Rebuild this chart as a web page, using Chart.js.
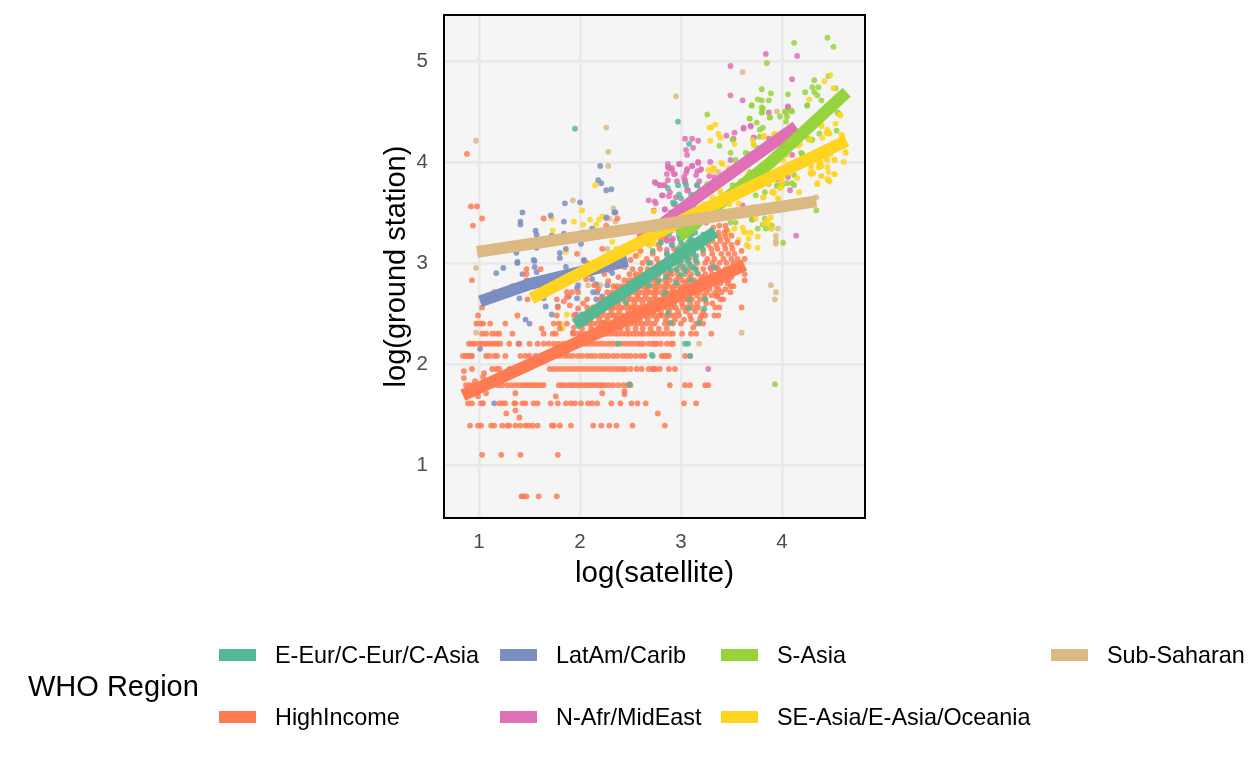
<!DOCTYPE html>
<html>
<head>
<meta charset="utf-8">
<title>WHO Region</title>
<script src="https://cdn.jsdelivr.net/npm/chart.js@4/dist/chart.umd.js"></script>
<style>
  html, body { margin: 0; padding: 0; background: #fff; }
  #wrap { position: relative; width: 1248px; height: 768px; overflow: hidden; font-family: "Liberation Sans", Arial, sans-serif; }
  canvas { position: absolute; left: 0; top: 0; }
  .legend-title { position: absolute; left: 28px; top: 668px; font-size: 29px; line-height: 36px; color: #000; white-space: nowrap; }
  .swatch { position: absolute; width: 37px; height: 12px; }
  .legend-label { position: absolute; font-size: 23.4px; line-height: 28px; color: #000; white-space: nowrap; }
</style>
</head>
<body>
<div id="wrap">
  <canvas id="chart" width="1248" height="768"></canvas>
  <div class="legend-title">WHO Region</div>
</div>
<script>
const regions = ['E-Eur/C-Eur/C-Asia', 'HighIncome', 'LatAm/Carib', 'N-Afr/MidEast', 'S-Asia', 'SE-Asia/E-Asia/Oceania', 'Sub-Saharan'];
const regionColors = ['#55b894', '#ff7a50', '#7b8ec1', '#e070b5', '#96d43c', '#ffd420', '#dcb882'];
const xTicks = [1, 2, 3, 4];
const yTicks = [1, 2, 3, 4, 5];

// fitted lines
const eEurLine = [[1.95, 2.39], [3.34, 3.31]];
const highIncomeLine = [[0.84, 1.69], [3.63, 2.98]];
const latAmLine = [[1.01, 2.62], [1.5, 2.79], [2.47, 3.02]];
const nAfrLine = [[2.6, 3.22], [3.2, 3.68], [4.14, 4.35]];
const sAsiaLine = [[2.98, 3.26], [3.88, 3.99], [4.64, 4.69]];
const seAsiaLine = [[1.52, 2.65], [3.1, 3.47], [4.64, 4.21]];
const subSaharanLine = [[0.98, 3.11], [4.34, 3.61]];

// high income stations report whole numbers, so the points fall in rows: [y, [x...]]
const highIncomeRows = [
  [0.69, [1.42, 1.44, 1.47, 1.59, 1.77]],
  [1.10, [1.03, 1.22, 1.41, 1.78]],
  [1.39, [0.91, 0.99, 1.02, 1.12, 1.15, 1.23, 1.28, 1.30, 1.36, 1.41, 1.46, 1.49, 1.53, 1.58, 1.72, 1.74, 1.80, 1.91, 2.13, 2.21, 2.29, 2.36, 2.52, 2.84]],
  [1.61, [0.89, 0.93, 1.02, 1.04, 1.20, 1.23, 1.26, 1.35, 1.36, 1.43, 1.46, 1.54, 1.58, 1.71, 1.78, 1.86, 1.91, 1.95, 2.01, 2.08, 2.12, 2.17, 2.31, 2.40, 2.51, 2.57, 2.65, 3.03, 3.15]],
  [1.79, [0.87, 0.90, 0.94, 0.98, 1.01, 1.05, 1.10, 1.14, 1.19, 1.23, 1.28, 1.32, 1.36, 1.40, 1.43, 1.46, 1.49, 1.52, 1.55, 1.58, 1.61, 1.64, 1.79, 1.82, 1.85, 1.89, 1.92, 1.95, 1.98, 2.01, 2.04, 2.07, 2.10, 2.13, 2.16, 2.19, 2.22, 2.25, 2.29, 2.33, 2.38, 2.43, 2.47, 2.50, 2.89, 3.04, 3.09, 3.24, 3.27]],
  [1.95, [0.93, 1.13, 1.17, 1.20, 1.30, 1.35, 1.40, 1.45, 1.48, 1.70, 1.74, 1.78, 1.82, 1.86, 1.90, 1.94, 1.98, 2.02, 2.06, 2.10, 2.14, 2.18, 2.22, 2.26, 2.30, 2.34, 2.38, 2.42, 2.45, 2.50, 2.56, 2.61, 2.68, 2.72, 2.75, 2.79, 2.88, 2.94]],
  [2.08, [0.84, 0.87, 0.89, 0.92, 0.93, 1.07, 1.10, 1.15, 1.18, 1.26, 1.41, 1.46, 1.50, 1.56, 1.68, 1.72, 1.76, 1.80, 1.85, 1.89, 1.93, 1.98, 2.02, 2.07, 2.11, 2.15, 2.20, 2.24, 2.28, 2.33, 2.37, 2.42, 2.46, 2.50, 2.55, 2.60, 2.64, 2.81, 2.83, 2.86, 2.88, 3.04, 3.09]],
  [2.20, [0.90, 0.93, 0.96, 1.00, 1.03, 1.06, 1.09, 1.12, 1.15, 1.18, 1.21, 1.30, 1.40, 1.50, 1.58, 1.64, 1.69, 1.74, 1.79, 1.84, 1.88, 1.92, 1.96, 2.00, 2.04, 2.08, 2.12, 2.16, 2.20, 2.24, 2.28, 2.32, 2.36, 2.41, 2.45, 2.49, 2.53, 2.57, 2.60, 2.63, 2.68, 2.72, 2.76, 2.80, 2.86, 2.90, 2.92]],
  [2.30, [1.03, 1.07, 1.13, 1.17, 1.20, 1.33, 1.64, 1.73, 1.76, 1.93, 1.97, 2.01, 2.05, 2.09, 2.13, 2.16, 2.20, 2.24, 2.27, 2.31, 2.35, 2.38, 2.42, 2.46, 2.49, 2.53, 2.56, 2.60, 2.63, 2.68, 2.72, 2.76, 2.80, 2.84, 2.89, 2.92, 3.01, 3.10, 3.15]],
  [2.35, [2.02, 2.11, 2.18, 2.26, 2.33, 2.40, 2.47, 2.55, 2.62, 2.70, 2.78, 2.86]],
  [2.40, [0.98, 1.02, 1.04, 1.11, 1.26, 1.74, 1.79, 1.87, 2.00, 2.05, 2.09, 2.13, 2.17, 2.21, 2.24, 2.28, 2.32, 2.35, 2.39, 2.43, 2.47, 2.50, 2.54, 2.57, 2.61, 2.65, 2.70, 2.74, 2.84, 2.88, 2.92, 3.00, 3.15, 3.18, 3.22]],
  [2.44, [2.10, 2.19, 2.27, 2.36, 2.44, 2.52, 2.59, 2.67, 2.76, 2.85, 2.94, 3.03, 3.10]],
  [2.48, [0.99, 1.38, 1.77, 1.94, 2.02, 2.08, 2.12, 2.17, 2.21, 2.26, 2.30, 2.34, 2.37, 2.42, 2.46, 2.50, 2.53, 2.57, 2.61, 2.65, 2.70, 2.74, 2.78, 2.81, 2.86, 2.89, 2.93, 2.98, 3.09, 3.20, 3.24, 3.33, 3.37]],
  [2.52, [2.14, 2.22, 2.31, 2.39, 2.48, 2.55, 2.63, 2.72, 2.80, 2.88, 2.97, 3.05, 3.14, 3.22]],
  [2.56, [1.03, 1.78, 2.07, 2.13, 2.18, 2.23, 2.27, 2.31, 2.35, 2.40, 2.44, 2.48, 2.52, 2.56, 2.60, 2.64, 2.67, 2.71, 2.75, 2.79, 2.83, 2.87, 2.91, 2.95, 3.02, 3.06, 3.12, 3.17, 3.34, 3.38, 3.60]],
  [2.60, [2.21, 2.30, 2.38, 2.46, 2.54, 2.62, 2.69, 2.77, 2.84, 2.93, 3.01, 3.09, 3.16, 3.25, 3.31]],
  [2.64, [1.48, 1.77, 2.07, 2.20, 2.25, 2.29, 2.33, 2.38, 2.42, 2.47, 2.51, 2.55, 2.59, 2.63, 2.68, 2.72, 2.76, 2.81, 2.85, 2.90, 2.95, 3.00, 3.05, 3.11, 3.19, 3.24, 3.39, 3.42]],
  [2.68, [2.30, 2.39, 2.48, 2.57, 2.65, 2.74, 2.83, 2.92, 3.00, 3.09, 3.16, 3.23, 3.30, 3.36]],
  [2.71, [1.15, 1.87, 1.92, 1.98, 2.27, 2.32, 2.36, 2.41, 2.45, 2.50, 2.54, 2.58, 2.62, 2.67, 2.71, 2.75, 2.80, 2.85, 2.90, 2.95, 3.01, 3.06, 3.12, 3.18, 3.25, 3.34, 3.40, 3.49]],
  [2.74, [2.38, 2.47, 2.56, 2.66, 2.75, 2.84, 2.92, 3.00, 3.10, 3.20, 3.28, 3.37, 3.44]],
  [2.77, [1.33, 2.33, 2.37, 2.42, 2.46, 2.51, 2.55, 2.60, 2.64, 2.68, 2.73, 2.78, 2.83, 2.88, 2.93, 2.98, 3.03, 3.09, 3.15, 3.22, 3.28, 3.35, 3.49, 3.52]],
  [2.80, [2.48, 2.57, 2.66, 2.76, 2.86, 2.96, 3.05, 3.14, 3.24, 3.32, 3.39, 3.46]],
  [2.83, [0.93, 1.47, 2.44, 2.49, 2.53, 2.58, 2.63, 2.68, 2.73, 2.78, 2.84, 2.89, 2.95, 3.01, 3.07, 3.13, 3.19, 3.26, 3.33, 3.41, 3.47, 3.63]],
  [2.86, [2.56, 2.64, 2.75, 2.87, 2.98, 3.09, 3.21, 3.29, 3.36, 3.44, 3.50]],
  [2.89, [1.47, 2.10, 2.24, 2.49, 2.55, 2.60, 2.66, 2.72, 2.78, 2.85, 2.91, 2.97, 3.04, 3.10, 3.17, 3.24, 3.31, 3.39, 3.45, 3.51, 3.63]],
  [2.94, [1.47, 1.61, 2.52, 2.60, 2.67, 2.74, 2.81, 2.88, 2.95, 3.02, 3.08, 3.15, 3.22, 3.30, 3.37, 3.44, 3.53, 3.60]],
  [3.00, [2.07, 2.62, 2.70, 2.78, 2.85, 2.93, 3.00, 3.08, 3.16, 3.24, 3.31, 3.38, 3.45, 3.52, 3.58]],
  [3.04, [2.66, 2.76, 2.86, 2.96, 3.07, 3.14, 3.26, 3.33, 3.42, 3.50, 3.56]],
  [3.09, [1.97, 2.72, 2.86, 3.03, 3.12, 3.22, 3.31, 3.40, 3.47, 3.53]],
  [3.14, [2.22, 2.79, 2.93, 3.08, 3.21, 3.30, 3.36, 3.44, 3.51]],
  [3.18, [2.78, 3.02, 3.18, 3.27, 3.35, 3.43, 3.50]],
  [3.22, [2.80, 3.10, 3.24, 3.31, 3.39, 3.46]],
  [3.26, [2.83, 3.22, 3.30, 3.38, 3.44]],
  [3.30, [3.28, 3.37, 3.43]],
  [3.37, [0.94, 2.26, 3.38, 3.44]],
  [3.44, [1.03, 1.64, 2.37]],
  [3.56, [0.92, 0.98]],
  [4.08, [0.88]]
];
const highIncomeExtra = [[1.27, 1.51], [1.36, 1.54], [1.40, 1.47], [1.76, 1.68], [2.77, 1.51], [1.07, 1.71], [0.99, 1.68], [2.44, 1.73], [2.44, 1.70], [2.22, 1.71], [1.36, 1.71], [0.85, 1.86], [1.04, 1.87], [1.05, 1.91], [0.96, 1.83], [0.85, 1.93], [1.87, 2.66], [2.13, 2.52], [1.94, 2.36], [1.80, 2.35], [3.30, 2.30], [3.12, 2.36], [3.35, 2.67], [3.19, 2.45], [1.62, 2.35], [1.72, 2.80], [1.78, 2.75], [1.84, 2.62], [1.90, 2.58], [1.98, 2.55], [2.03, 2.60], [2.06, 2.84], [2.14, 2.78], [2.18, 2.74], [2.28, 2.82], [2.38, 2.86], [2.44, 2.96], [2.31, 2.94], [2.50, 3.03], [2.55, 3.07], [2.60, 3.12], [2.66, 3.20], [2.90, 3.32], [3.05, 3.34], [3.16, 3.36], [3.25, 3.40], [3.32, 3.35], [3.45, 3.33], [3.50, 3.27], [3.56, 3.20], [3.60, 3.12], [3.63, 3.04]];

const eEurPoints = [[1.95, 4.33], [2.97, 4.40], [3.08, 4.18], [2.87, 3.74], [2.97, 3.77], [3.05, 3.77], [3.16, 3.77], [2.94, 3.59], [3.00, 3.64], [3.14, 3.64], [3.19, 3.72], [2.68, 3.00], [3.04, 2.20], [3.07, 2.20], [3.09, 2.08], [3.18, 2.41], [2.90, 2.41], [3.24, 2.64], [3.08, 2.64], [2.71, 2.09], [2.84, 2.69], [2.38, 2.20], [2.45, 2.61], [2.87, 2.50], [2.69, 2.78], [2.49, 1.80], [2.72, 2.08], [3.23, 2.55], [3.08, 2.55], [3.33, 2.96], [2.85, 2.70], [2.90, 3.50], [2.85, 3.43], [3.02, 3.45], [3.10, 3.50], [3.18, 3.40], [2.96, 3.34], [3.06, 3.35], [2.88, 3.28], [3.14, 3.30], [3.22, 3.28], [2.99, 3.24], [3.09, 3.24], [2.91, 3.18], [3.04, 3.17], [3.17, 3.19], [2.96, 3.12], [3.11, 3.13], [3.22, 3.13], [2.86, 3.09], [3.01, 3.08], [3.15, 3.07], [2.93, 3.03], [3.06, 3.02], [2.98, 2.98], [3.12, 2.96], [2.80, 2.95], [2.90, 2.93], [3.05, 2.92], [2.75, 2.89], [3.00, 2.88], [2.85, 2.86], [3.10, 2.83], [2.95, 2.80], [2.78, 2.82], [3.16, 2.90], [2.92, 3.60], [3.07, 3.60], [3.12, 3.55], [2.80, 3.20], [2.72, 3.12], [2.98, 3.27], [3.02, 3.31], [3.10, 3.28], [3.00, 3.20], [3.07, 3.20], [3.13, 3.22], [2.98, 3.15], [3.05, 3.11], [3.12, 3.09], [3.00, 3.03], [3.08, 3.05], [3.15, 3.02], [2.96, 2.93], [3.03, 2.96], [3.09, 2.98], [3.14, 2.94], [3.00, 3.40], [3.05, 3.50], [2.98, 3.68], [3.10, 3.68]];

const latAmPoints = [[2.20, 3.96], [2.18, 3.82], [2.21, 3.79], [2.26, 3.72], [2.31, 3.73], [2.00, 3.60], [1.85, 3.59], [1.43, 3.50], [1.41, 3.41], [1.41, 3.38], [1.71, 3.47], [1.84, 3.41], [1.56, 3.32], [1.57, 3.28], [1.72, 3.27], [1.84, 3.29], [2.03, 3.30], [2.12, 3.34], [2.34, 3.50], [2.35, 3.50], [2.26, 3.45], [1.86, 3.14], [2.01, 3.19], [1.80, 3.10], [1.80, 3.05], [1.37, 3.10], [1.38, 3.01], [1.54, 3.03], [1.57, 3.15], [2.04, 3.03], [1.17, 2.90], [1.24, 2.95], [1.38, 3.00], [1.43, 2.89], [1.55, 3.02], [1.55, 2.96], [1.57, 2.91], [1.86, 2.96], [2.04, 3.02], [1.40, 2.65], [1.64, 2.65], [1.66, 2.57], [1.78, 2.57], [1.89, 2.67], [1.97, 2.65], [1.97, 2.75], [1.98, 2.78], [2.12, 2.84], [2.19, 2.93], [2.32, 2.90], [2.29, 2.93], [2.16, 2.79], [2.27, 2.78], [2.13, 2.71], [2.17, 2.71], [2.22, 2.67], [2.16, 2.64], [1.96, 2.49], [2.02, 2.49], [1.72, 2.49], [1.50, 2.40], [1.46, 2.44], [1.93, 2.31], [2.23, 2.41], [1.39, 2.20], [1.01, 2.15], [1.15, 1.61]];

const nAfrPoints = [[3.84, 5.07], [4.15, 5.05], [3.49, 4.95], [4.10, 4.82], [3.49, 4.66], [3.61, 4.61], [3.87, 4.49], [4.06, 4.54], [3.62, 4.34], [3.69, 4.35], [3.53, 4.29], [3.45, 4.26], [3.52, 4.23], [3.72, 4.24], [3.87, 4.23], [3.04, 4.23], [3.11, 4.23], [3.17, 4.21], [3.12, 4.14], [3.05, 4.12], [3.06, 4.07], [4.10, 4.07], [3.49, 4.02], [3.29, 4.00], [2.87, 3.98], [2.99, 3.98], [3.17, 4.00], [3.11, 3.96], [2.88, 3.94], [2.91, 3.94], [3.06, 3.93], [3.20, 3.93], [3.16, 3.91], [2.93, 3.88], [2.86, 3.88], [3.05, 3.89], [3.03, 3.85], [3.28, 3.86], [3.33, 3.85], [2.87, 3.82], [2.96, 3.81], [2.75, 3.79], [2.79, 3.77], [2.83, 3.77], [3.04, 3.80], [3.16, 3.77], [3.18, 3.81], [2.81, 3.67], [2.89, 3.70], [2.95, 3.65], [3.06, 3.72], [3.13, 3.67], [2.75, 3.59], [2.73, 3.52], [2.84, 3.53], [2.93, 3.58], [4.08, 3.72], [4.14, 3.27], [3.61, 3.57], [3.95, 3.83], [2.86, 3.22], [2.91, 3.22], [3.62, 4.33], [3.69, 4.36], [4.06, 4.55], [3.72, 4.24], [4.06, 3.85], [3.96, 3.84], [2.74, 3.80], [2.79, 3.77], [2.84, 3.77], [2.87, 3.95], [2.91, 3.92], [2.98, 3.98], [3.11, 3.96], [3.17, 3.99], [3.06, 3.92], [2.94, 3.88], [3.15, 3.87], [3.19, 3.92], [2.68, 3.62], [2.74, 3.61], [2.82, 3.67], [2.84, 3.53], [2.88, 3.66], [3.04, 3.82], [3.07, 3.72], [2.59, 3.28], [2.63, 3.29], [2.86, 3.23], [2.92, 3.24], [2.91, 3.18], [2.86, 3.13], [2.89, 2.90], [3.29, 2.95], [3.35, 2.95], [2.74, 2.20], [2.73, 1.95], [3.27, 1.95]];

const sAsiaPoints = [[4.45, 5.23], [4.12, 5.18], [4.51, 5.14], [3.85, 4.98], [4.32, 4.81], [4.46, 4.85], [4.30, 4.74], [4.36, 4.74], [4.53, 4.73], [3.80, 4.72], [3.89, 4.68], [4.06, 4.67], [4.23, 4.69], [4.32, 4.69], [4.35, 4.66], [4.39, 4.61], [4.25, 4.56], [3.76, 4.62], [3.80, 4.61], [3.87, 4.61], [3.70, 4.56], [3.81, 4.53], [3.80, 4.49], [3.88, 4.44], [3.26, 4.47], [3.68, 4.43], [3.98, 4.45], [4.04, 4.49], [4.09, 4.51], [4.05, 4.45], [4.04, 4.40], [3.75, 4.39], [3.81, 4.34], [3.78, 4.32], [4.55, 4.49], [4.54, 4.31], [4.46, 4.29], [4.37, 4.28], [4.26, 4.23], [4.30, 4.22], [3.51, 4.22], [3.78, 4.25], [3.38, 4.16], [3.72, 4.17], [3.49, 4.09], [3.64, 4.09], [3.54, 4.02], [3.67, 4.08], [3.76, 4.14], [3.51, 3.77], [4.20, 4.08], [3.74, 3.67], [3.83, 3.70], [4.12, 3.87], [4.10, 3.79], [4.05, 3.79], [3.99, 3.77], [3.95, 3.76], [3.87, 3.80], [3.80, 3.96], [3.71, 3.55], [3.82, 3.55], [4.34, 3.52], [3.71, 3.43], [3.76, 3.34], [3.84, 3.34], [3.89, 3.34], [4.01, 3.20], [3.54, 3.40], [3.49, 3.40], [3.26, 3.78], [3.93, 1.80], [3.70, 4.56], [3.68, 4.43], [3.80, 4.54], [3.80, 4.49], [3.88, 4.44], [4.03, 4.50], [4.10, 4.50], [4.25, 4.56], [4.56, 4.48], [4.45, 4.29], [4.29, 4.22], [4.19, 4.09], [3.95, 3.77], [4.00, 3.77], [4.12, 3.77], [3.70, 3.43], [3.83, 3.44], [3.81, 3.38], [3.90, 3.37], [3.60, 3.75], [3.68, 3.90], [3.75, 3.82], [3.85, 3.90], [3.95, 4.02], [4.02, 4.12], [3.92, 3.88]];

const seAsiaPoints = [[2.15, 3.77], [2.02, 3.52], [1.72, 3.44], [1.94, 3.41], [2.10, 3.43], [2.03, 3.38], [2.19, 3.43], [2.22, 3.46], [2.16, 3.38], [1.73, 3.32], [1.86, 3.11], [2.32, 3.21], [2.36, 3.14], [2.58, 3.08], [1.87, 2.49], [1.81, 2.40], [1.83, 2.35], [2.51, 2.57], [2.72, 2.31], [4.48, 4.86], [4.42, 4.80], [4.51, 4.73], [4.27, 4.62], [4.57, 4.47], [4.58, 4.46], [4.39, 4.37], [4.39, 4.35], [4.53, 4.38], [4.45, 4.32], [4.44, 4.29], [4.47, 4.28], [4.40, 4.24], [3.28, 4.34], [3.30, 4.34], [3.34, 4.37], [3.37, 4.28], [3.39, 4.24], [3.29, 4.21], [3.53, 4.18], [3.71, 4.22], [3.72, 4.17], [3.82, 4.25], [3.93, 4.28], [4.16, 4.16], [4.27, 4.22], [4.60, 4.25], [4.61, 4.16], [4.63, 4.10], [4.61, 4.00], [4.52, 4.02], [4.45, 4.02], [4.48, 4.08], [4.42, 4.10], [4.35, 4.05], [4.37, 4.00], [4.39, 3.96], [4.45, 3.95], [4.37, 3.95], [4.28, 3.89], [4.31, 3.89], [4.39, 3.86], [4.45, 3.83], [4.47, 3.81], [4.52, 3.88], [4.35, 3.78], [4.17, 3.70], [4.15, 3.84], [3.41, 3.98], [3.33, 3.93], [3.31, 3.91], [3.47, 3.94], [3.39, 3.70], [3.82, 3.65], [3.90, 3.70], [3.92, 3.69], [3.96, 3.64], [3.99, 3.75], [4.00, 3.80], [3.89, 3.45], [3.85, 3.42], [3.87, 3.39], [3.83, 3.39], [3.90, 3.34], [3.64, 3.30], [3.69, 3.30], [3.67, 3.24], [3.67, 3.16], [3.76, 3.26], [3.76, 3.15], [3.53, 3.34], [3.61, 3.35], [3.71, 3.48], [3.46, 3.30], [3.74, 3.44], [3.31, 3.65], [3.23, 3.58], [3.48, 3.58], [3.59, 3.81], [3.66, 3.88], [3.92, 4.27], [3.82, 4.26], [4.18, 4.18], [4.28, 4.22], [4.59, 4.27], [4.62, 4.17], [4.63, 4.09], [4.52, 4.02], [4.44, 4.03], [4.38, 4.00], [4.29, 3.97], [4.29, 3.94], [4.36, 3.95], [4.46, 3.90], [4.52, 3.88], [4.29, 3.88], [4.39, 3.86], [4.46, 3.82], [4.35, 3.79], [3.96, 3.64], [3.91, 3.71], [3.81, 3.65], [3.98, 3.74], [4.00, 3.82], [4.05, 4.07], [4.01, 4.02], [2.73, 3.51], [2.69, 3.17], [2.74, 3.19], [3.27, 3.92], [3.32, 3.94], [3.40, 3.99], [3.39, 3.71], [3.57, 3.59], [3.47, 3.31], [3.62, 3.31], [3.57, 3.23], [3.65, 3.18]];

const subSaharanPoints = [[0.97, 4.21], [2.26, 4.34], [2.28, 4.10], [2.28, 3.96], [1.93, 3.62], [2.33, 3.54], [2.26, 3.44], [2.29, 3.44], [2.35, 3.41], [2.27, 3.14], [0.97, 2.95], [0.97, 2.40], [0.97, 2.31], [2.08, 2.78], [2.20, 2.78], [2.95, 4.65], [3.61, 4.89], [3.95, 4.50], [3.37, 3.90], [4.34, 3.65], [3.96, 3.34], [3.94, 3.27], [3.94, 3.22], [3.94, 3.19], [3.87, 3.78], [3.89, 2.78], [3.94, 2.71], [3.93, 2.64], [3.60, 2.31], [3.18, 2.20]];

const highIncomePoints = highIncomeRows.flatMap(([y, xs]) => xs.map(x => [x, y])).concat(highIncomeExtra);

const toXY = pairs => pairs.map(([x, y]) => ({ x, y }));

function withAlpha(hex, alpha) {
    const n = parseInt(hex.slice(1), 16);
    return `rgba(${n >> 16},${(n >> 8) & 255},${n & 255},${alpha})`;
}

function pointSet(i, pairs, order) {
    return {
        label: regions[i] + ' points',
        data: toXY(pairs),
        order,
        showLine: false,
        pointRadius: 2.9,
        pointBorderWidth: 0,
        pointBackgroundColor: withAlpha(regionColors[i], 0.85),
    };
}

function lineSet(i, pairs, order) {
    return {
        label: regions[i],
        data: toXY(pairs),
        order,
        showLine: true,
        borderColor: regionColors[i],
        borderWidth: 12,
        borderCapStyle: 'butt',
        borderJoinStyle: 'bevel',
        pointRadius: 0,
        fill: false,
    };
}

// higher order is painted first
const datasets = [
    pointSet(3, nAfrPoints, 20),
    pointSet(4, sAsiaPoints, 19),
    pointSet(5, seAsiaPoints, 18),
    pointSet(6, subSaharanPoints, 17),
    pointSet(2, latAmPoints, 16),
    pointSet(1, highIncomePoints, 15),
    pointSet(0, eEurPoints, 14),
    lineSet(1, highIncomeLine, 7),
    lineSet(2, latAmLine, 6),
    lineSet(3, nAfrLine, 5),
    lineSet(4, sAsiaLine, 4),
    lineSet(5, seAsiaLine, 3),
    lineSet(6, subSaharanLine, 2),
    lineSet(0, eEurLine, 1),
];

const panelPlugin = {
    id: 'panel',
    beforeDraw(chart) {
        const { ctx, chartArea: a } = chart;
        ctx.save();
        ctx.fillStyle = '#f5f5f5';
        ctx.fillRect(a.left, a.top, a.right - a.left, a.bottom - a.top);
        ctx.restore();
    },
    afterDraw(chart) {
        const { ctx, chartArea: a } = chart;
        ctx.save();
        ctx.strokeStyle = '#000';
        ctx.lineWidth = 2;
        ctx.strokeRect(a.left, a.top, a.right - a.left, a.bottom - a.top);
        ctx.restore();
    },
};

const font = 'Liberation Sans';

new Chart(document.getElementById('chart').getContext('2d'), {
    type: 'scatter',
    data: { datasets },
    plugins: [panelPlugin],
    options: {
        responsive: false,
        animation: false,
        layout: { padding: { left: 380, right: 383, top: 15, bottom: 176 } },
        plugins: { legend: { display: false }, tooltip: { enabled: false } },
        scales: {
            x: {
                type: 'linear',
                min: 0.653,
                max: 4.822,
                afterBuildTicks: s => { s.ticks = xTicks.map(value => ({ value })); },
                afterFit: s => { s.height = 74; s.paddingLeft = 0; s.paddingRight = 0; },
                grid: { color: '#e9e9e9', lineWidth: 2.7, drawTicks: false },
                border: { display: false },
                ticks: { color: '#4d4d4d', font: { family: font, size: 20.5 }, padding: 12, maxRotation: 0, callback: v => v },
                title: { display: true, text: 'log(satellite)', color: '#000', font: { family: font, size: 29.5 }, padding: { top: 0, bottom: 0 } },
            },
            y: {
                type: 'linear',
                min: 0.475,
                max: 5.455,
                afterBuildTicks: s => { s.ticks = yTicks.map(value => ({ value })); },
                afterFit: s => { s.width = 64; s.paddingTop = 0; s.paddingBottom = 0; },
                grid: { color: '#e9e9e9', lineWidth: 2.7, drawTicks: false },
                border: { display: false },
                ticks: { color: '#4d4d4d', font: { family: font, size: 20.5 }, padding: 16, callback: v => v },
                title: { display: true, text: 'log(ground station)', color: '#000', font: { family: font, size: 29 }, padding: { top: 0, bottom: 0 } },
            },
        },
    },
});

// legend: two rows, filled column by column
const legendSwatchX = [219, 219, 500, 500, 721, 721, 1051];
const legendLabelX = [275, 275, 556, 556, 777, 777, 1107];
const legendRowY = [655, 717];
const legendRowOf = [0, 1, 0, 1, 0, 1, 0];
const wrap = document.getElementById('wrap');
regions.forEach((name, i) => {
    const cy = legendRowY[legendRowOf[i]];
    const sw = document.createElement('div');
    sw.className = 'swatch';
    sw.style.cssText = `left:${legendSwatchX[i]}px;top:${cy - 6}px;background:${regionColors[i]}`;
    wrap.appendChild(sw);
    const label = document.createElement('div');
    label.className = 'legend-label';
    label.style.cssText = `left:${legendLabelX[i]}px;top:${cy - 14}px`;
    label.textContent = name;
    wrap.appendChild(label);
});
</script>
</body>
</html>
